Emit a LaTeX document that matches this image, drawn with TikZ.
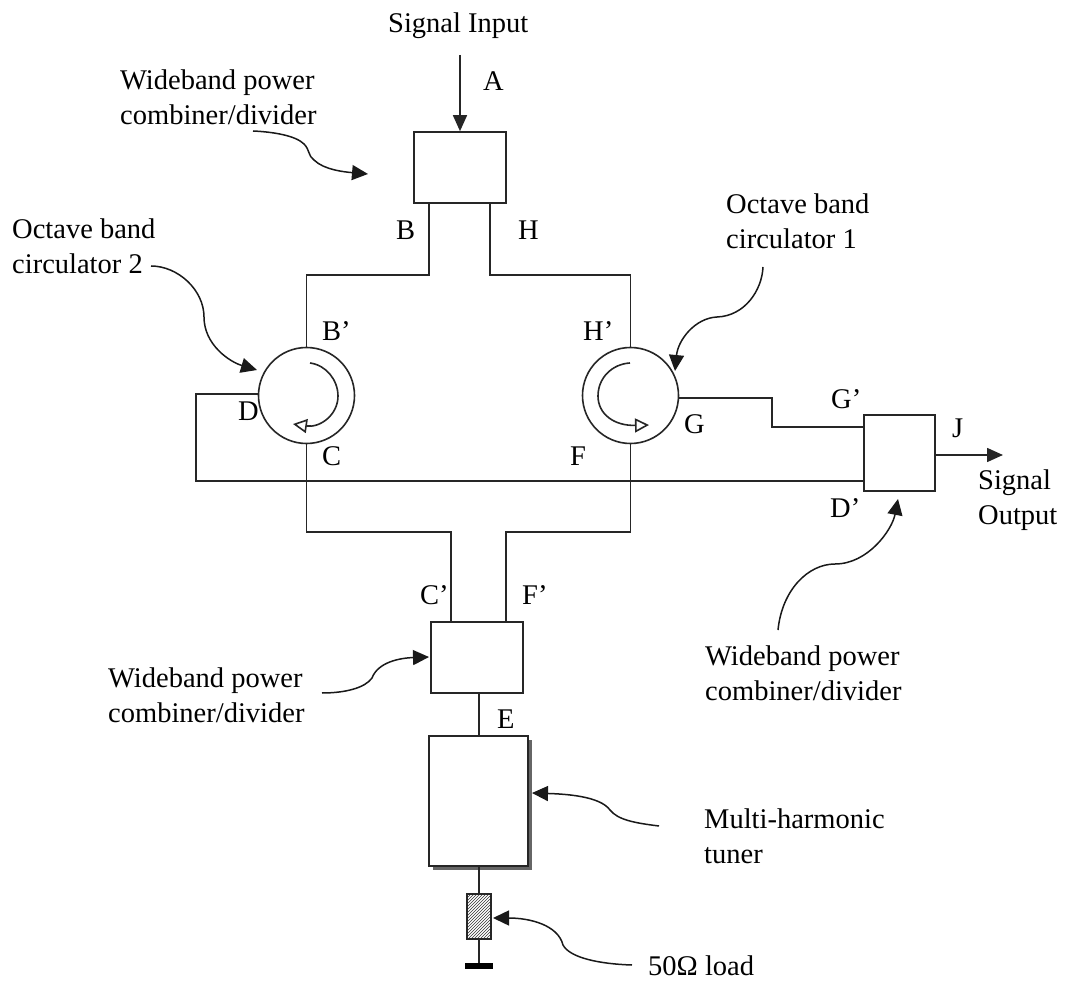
\documentclass[tikz,border=0pt]{standalone}
\usepackage{fontspec}
\setmainfont{Liberation Serif}
\usetikzlibrary{arrows.meta,patterns}
\tikzset{
  wire/.style={line width=1.8pt,black!85},
  block/.style={draw=black!85,line width=1.6pt,fill=white,inner sep=0pt},
  lbl/.style={font=\fontsize{28.5}{35}\selectfont,inner sep=0pt,align=left,text=black},
  one/.style={lbl,anchor=base west},
  two/.style={lbl,anchor=north west},
  sig/.style={line width=1.6pt,black!85,-{Triangle[length=16pt,width=14pt]}},
  callout/.style={line width=1.5pt,black!90,-{Triangle[length=16pt,width=15pt]}},
  rot/.style={line width=1.6pt,black!85,-{Triangle[open,fill=white,length=14pt,width=14pt]}}
}
\begin{document}
\begin{tikzpicture}[x=1pt,y=-1pt]
\useasboundingbox (0,0) rectangle (1066,981);
% blocks
\node[block,minimum width=92pt,minimum height=71pt] (top) at (460,167.5) {};
\node[block,minimum width=71pt,minimum height=76pt] (right) at (899.5,453) {};
\node[block,minimum width=92pt,minimum height=71pt] (bot) at (477,657.5) {};
\fill[black!60] (433,740) rectangle (532,870);
\node[block,minimum width=99pt,minimum height=130pt,line width=1.8pt] (tuner) at (478.5,801) {};
\node[block,minimum width=24pt,minimum height=45pt,pattern=north east lines,pattern color=black!80] (load) at (479,916.5) {};
\node[circle,draw=black!85,line width=1.6pt,minimum size=96pt,inner sep=0pt] (c2) at (306.5,395.5) {};
\node[circle,draw=black!85,line width=1.6pt,minimum size=96pt,inner sep=0pt] (c1) at (630.5,395.5) {};
% coordinates
\coordinate (inA) at (460,55);
\coordinate (outJ) at (1003,455);
\coordinate (topB) at (429,203);
\coordinate (topH) at (490,203);
\coordinate (botC) at (451,622);
\coordinate (botF) at (506,622);
\coordinate (gnd) at (479,966);
\coordinate (gL) at (465,966);
\coordinate (gR) at (493,966);
% wires
\draw[sig] (inA) -- (inA |- top.north);
\draw[sig] (right.east |- outJ) -- (outJ);
\draw[wire] (topB) -- (429,275) -- (306.5,275) -- (c2.north);
\draw[wire] (topH) -- (490,275) -- (630.5,275) -- (c1.north);
\draw[wire] (c2.west) ++(0,-1.5) -- (196,394) -- (196,481) -- (864,481);
\draw[wire] (c2.south) -- (306.5,532) -- (451,532) -- (botC);
\draw[wire] (c1.south) -- (630.5,532) -- (506,532) -- (botF);
\draw[wire] (c1.east) ++(0,2.5) -- (772,398) -- (772,427) -- (864,427);
\draw[wire] (bot.south -| gnd) -- (tuner.north -| gnd);
\draw[wire] (tuner.south -| gnd) -- (load.north);
\draw[wire] (load.south) -- (gnd);
\draw[line width=6pt] (gL) -- (gR);
% rotation arrows
\draw[rot] (310,363) .. controls (326,365) and (338,380) .. (338,396) .. controls (338,415) and (320,428) .. (293,424);
\draw[rot] (630,363) .. controls (612,364) and (598,378) .. (598,396) .. controls (598,414) and (614,426) .. (649,425);
% callouts
\draw[callout] (253,131) .. controls (275,132) and (296,136) .. (304,144) .. controls (310,150) and (308,156) .. (314,160) .. controls (324,170) and (345,172) .. (368,174);
\draw[callout] (151,266) .. controls (178,266) and (204,290) .. (204,317) .. controls (204,345) and (230,362) .. (257,370);
\draw[callout] (763,267) .. controls (762,290) and (745,316) .. (717,317) .. controls (695,318) and (678,340) .. (675,371);
\draw[callout] (778,630) .. controls (782,590) and (808,564) .. (835,564) .. controls (868,564) and (892,530) .. (898,499);
\draw[callout] (322,693) .. controls (345,693) and (365,688) .. (372,678) .. controls (378,662) and (400,658) .. (429,657);
\draw[callout] (659,826) .. controls (635,823) and (618,820) .. (610,810) .. controls (600,796) and (565,794) .. (532,793);
\draw[callout] (632,965) .. controls (600,964) and (570,958) .. (563,945) .. controls (558,925) and (530,918) .. (493,918);
% labels
\node[one] (tSI) at (388,33) {Signal Input};
\node[one] (tA) at (483,91) {A};
\node[two] (tW1) at (120,69.5) {Wideband power\\combiner/divider};
\node[one] (tB) at (396,240) {B};
\node[one] (tH) at (518,240) {H};
\node[two] (tO2) at (12,218.5) {Octave band\\circulator 2};
\node[two] (tO1) at (726,193.5) {Octave band\\circulator 1};
\node[one] (tBp) at (322,341) {B’};
\node[one] (tHp) at (583,341) {H’};
\node[one] (tD) at (238,421) {D};
\node[one] (tC) at (322,466) {C};
\node[one] (tF) at (570,466) {F};
\node[one] (tG) at (684,434) {G};
\node[one] (tGp) at (831,409) {G’};
\node[one] (tJ) at (952,438) {J};
\node[one] (tDp) at (830,518) {D’};
\node[two] (tOut) at (978,469.5) {Signal\\Output};
\node[one] (tCp) at (420,604) {C’};
\node[one] (tFp) at (522,604) {F’};
\node[one] (tE) at (497,728) {E};
\node[two] (tW2) at (108,667.5) {Wideband power\\combiner/divider};
\node[two] (tW3) at (705,645.5) {Wideband power\\combiner/divider};
\node[two] (tM) at (704,808.5) {Multi-harmonic\\tuner};
\node[one] (tL) at (648,975) {50Ω load};
\end{tikzpicture}
\end{document}
